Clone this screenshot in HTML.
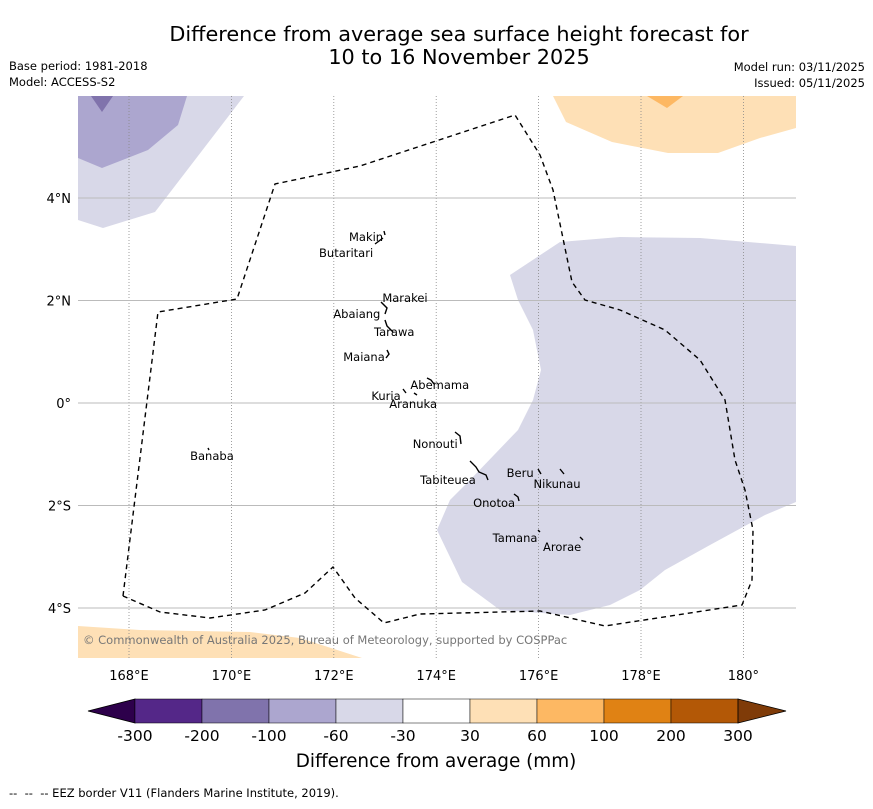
<!DOCTYPE html>
<html><head><meta charset="utf-8"><style>
body{margin:0;background:#fff;width:873px;height:804px;overflow:hidden;font-family:"Liberation Sans","DejaVu Sans",sans-serif}
svg text{font-family:"DejaVu Sans","Liberation Sans",sans-serif}
</style></head><body>
<svg id="c" width="873" height="804" xmlns="http://www.w3.org/2000/svg">
<text x="459" y="41" font-size="20.8" text-anchor="middle">Difference from average sea surface height forecast for</text>
<text x="459" y="64" font-size="20.8" text-anchor="middle">10 to 16 November 2025</text>
<text x="9" y="70" font-size="11.5">Base period: 1981-2018</text>
<text x="9" y="86" font-size="11.5">Model: ACCESS-S2</text>
<text x="865" y="71" font-size="11.5" text-anchor="end">Model run: 03/11/2025</text>
<text x="865" y="87" font-size="11.5" text-anchor="end">Issued: 05/11/2025</text>
<g id="map">
<polygon fill="#d8d8e8" points="78,96 244,96 155,212 103,228 78,220"/>
<polygon fill="#aca6cf" points="78,96 187,96 178,125 148,150 102,168 78,158"/>
<polygon fill="#8073ac" points="91,96 113,96 102,112"/>
<polygon fill="#d8d8e8" points="510,275 560,242 620,237 700,238 796,246 796,502 765,515 710,545 665,570 640,590 610,605 570,615 500,610 462,582 437,530 450,500 470,480 518,430 533,400 541,370 533,330 518,300"/>
<polygon fill="#fee0b6" points="553,96 566,122 612,142 668,153 718,153 760,138 796,128 796,96"/>
<polygon fill="#fdb863" points="647,96 683,96 667,108"/>
<polygon fill="#fee0b6" points="78,626 140,630 250,632 300,638 362,658 78,658"/>
<g id="grid"></g>
<polyline fill="none" stroke="#000" stroke-width="1.4" stroke-dasharray="5,4" points="123,596 158,312 237,299 275,184 360,166 515,115 540,155 553,190 572,282 585,300 620,310 665,330 700,360 725,400 735,460 745,490 753,530 752,580 742,605 605,626 540,611 420,614 384,623 355,598 333,567 305,593 265,610 210,618 160,612 123,596"/>
<g fill="none" stroke="#000" stroke-width="1.4">
<path d="M384,231 l1,4 M383,238 l-8,6 M381,302 l6,6 -2,6 M385,320 l2,6 6,6 M387,350 l2,4 -3,4 M427,378 l4,2 3,4 M403,389 l3,4 M414,393 l3,2 M455,432 l5,4 1,8 M470,461 l6,6 3,5 7,3 2,5 M538,469 l3,5 M560,469 l4,5 M514,494 l4,3 1,4 M538,530 l2,2 M580,537 l3,3 M208,448 l1,2"/>
</g>
<g id="islands"></g>
<text x="83" y="644" font-size="11.5" fill="#777">© Commonwealth of Australia 2025, Bureau of Meteorology, supported by COSPPac</text>
</g>
<g id="cbar"></g>
<text x="436" y="767" font-size="18.4" text-anchor="middle">Difference from average (mm)</text>
<text x="9" y="797" font-size="11.5" xml:space="preserve">--  --  -- EEZ border V11 (Flanders Marine Institute, 2019).</text>
</svg>
<script>
const lonTicks=[168,170,172,174,176,178,180];
const lonLabels=["168°E","170°E","172°E","174°E","176°E","178°E","180°"];
const latTicks=[4,2,0,-2,-4];
const latLabels=["4°N","2°N","0°","2°S","4°S"];
const cbColors=["#542788","#8073ac","#aca6cf","#d8d8e8","#ffffff","#fee0b6","#fdb863","#e08214","#b35806"];
const cbLabels=["-300","-200","-100","-60","-30","30","60","100","200","300"];
const islandNames=["Makin","Butaritari","Marakei","Abaiang","Tarawa","Maiana","Abemama","Kuria","Aranuka","Nonouti","Banaba","Tabiteuea","Beru","Nikunau","Onotoa","Tamana","Arorae"];
const islandLon=[172.63,172.24,173.39,172.45,173.18,172.59,174.07,173.02,173.55,173.98,169.62,174.23,175.64,176.36,175.13,175.54,176.46];
const islandLat=[3.24,2.93,2.05,1.74,1.39,0.90,0.35,0.14,-0.02,-0.80,-1.03,-1.50,-1.37,-1.58,-1.95,-2.63,-2.81];
const NS="http://www.w3.org/2000/svg";
const x=lon=>129+(lon-168)*51.2;
const y=lat=>403-lat*51.25;
function mk(t,a,p){const e=document.createElementNS(NS,t);for(const k in a)e.setAttribute(k,a[k]);p.appendChild(e);return e;}
const g=document.getElementById('grid');
lonTicks.forEach((v,i)=>{
 const l=mk('line',{x1:x(v),x2:x(v),y1:96,y2:658,stroke:'#888','stroke-width':0.8,'stroke-dasharray':'1,2'},g);
 
 
 const t=mk('text',{x:x(v),y:680,'font-size':13,'text-anchor':'middle'},document.getElementById('c'));
 t.textContent=lonLabels[i];
 
 
});
latTicks.forEach((v,i)=>{
 const l=mk('line',{x1:78,x2:796,y1:y(v),y2:y(v),stroke:'#bbb','stroke-width':1},g);
 
 
 const t=mk('text',{x:71,y:y(v)+5,'font-size':13,'text-anchor':'end'},document.getElementById('c'));
 t.textContent=latLabels[i];
 
 
});
const ig=document.getElementById('islands');
islandNames.forEach((n,i)=>{
 const t=mk('text',{x:x(islandLon[i]),y:y(islandLat[i])+4,'text-anchor':'middle','font-size':11.5},ig);
 t.textContent=n;
 
 
});
const cb=document.getElementById('cbar');
const cx0=135,cw=67,cy=699,ch=24;
const a=mk('polygon',{points:`${cx0},${cy} ${cx0},${cy+ch} 88,${cy+ch/2}`,fill:'#2d004b',stroke:'#000','stroke-width':0.8},cb);


cbColors.forEach((c,i)=>{
 const r=mk('rect',{x:cx0+i*cw,y:cy,width:cw,height:ch,fill:c,stroke:'#000','stroke-width':0.5},cb);
 
 
});
const ex=cx0+cbColors.length*cw;
const b=mk('polygon',{points:`${ex},${cy} ${ex},${cy+ch} 786,${cy+ch/2}`,fill:'#7f3b08',stroke:'#000','stroke-width':0.8},cb);


cbLabels.forEach((s,i)=>{
 const t=mk('text',{x:cx0+i*cw,y:741,'font-size':15.5,'text-anchor':'middle'},cb);
 t.textContent=s;
 
 
});
</script>
</body></html>
